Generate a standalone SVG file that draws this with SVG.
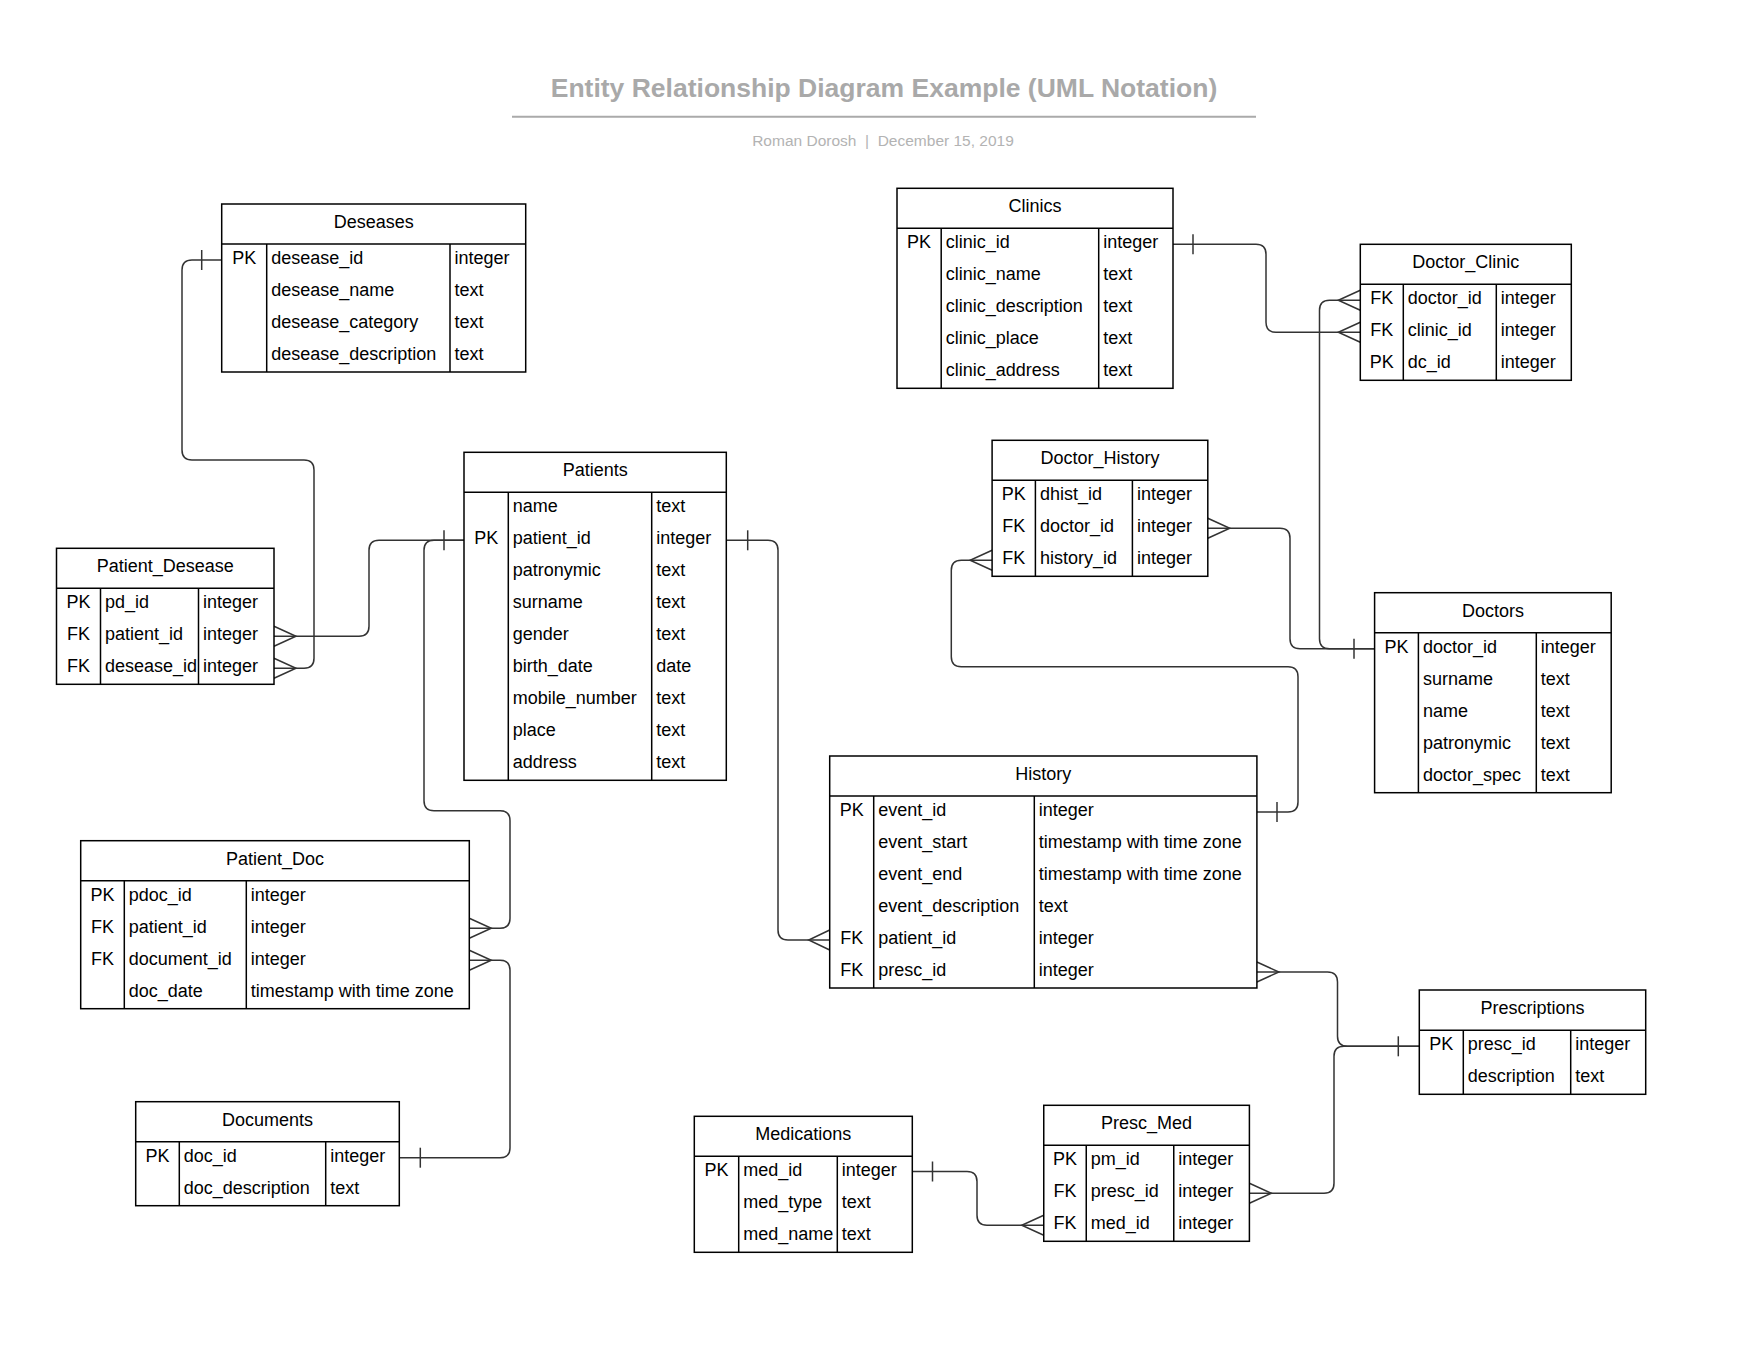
<svg xmlns="http://www.w3.org/2000/svg" width="1758" height="1358" viewBox="0 0 1758 1358">
<style>
.bg{fill:#ffffff}
.box{fill:#ffffff;stroke:#000000;stroke-width:1.5}
.ln{stroke:#000000;stroke-width:1.5}
.t{font-family:"Liberation Sans",Arial,sans-serif;font-size:18px;fill:#000000}
.c{text-anchor:middle}
.cn{fill:none;stroke:#333333;stroke-width:1.5}
.title{font-family:"Liberation Sans",Arial,sans-serif;font-size:26.5px;font-weight:bold;fill:#a9a9a9;text-anchor:middle}
.sub{font-family:"Liberation Sans",Arial,sans-serif;font-size:15.5px;fill:#b3b3b3;text-anchor:middle}
</style>
<rect class="bg" x="0" y="0" width="1758" height="1358"/>
<g id="title">
<text class="title" x="884" y="97">Entity Relationship Diagram Example (UML Notation)</text>
<line x1="512" y1="116.7" x2="1256" y2="116.7" stroke="#aaaaaa" stroke-width="2"/>
<text class="sub" x="883" y="145.5">Roman Dorosh&#160;&#160;|&#160;&#160;December 15, 2019</text>
</g>

<g id="connectors">
<!-- Deseases PK - Patient_Desease desease_id -->
<path class="cn" d="M221.7,260 H192 Q182,260 182,270 V450 Q182,460 192,460 H304 Q314,460 314,470 V658.3 Q314,668.3 304,668.3 H274"/>
<line class="cn" x1="201.7" y1="250" x2="201.7" y2="270"/>
<path class="cn" d="M274,658.3 L296,668.3 L274,678.3"/>
<!-- Patients PK - Patient_Desease patient_id -->
<path class="cn" d="M274,636.3 H359 Q369,636.3 369,626.3 V550.3 Q369,540.3 379,540.3 H464"/>
<path class="cn" d="M274,626.3 L296,636.3 L274,646.3"/>
<line class="cn" x1="444" y1="530.3" x2="444" y2="550.3"/>
<!-- Patients PK - Patient_Doc patient_id -->
<path class="cn" d="M464,540.3 H434 Q424,540.3 424,550.3 V800.7 Q424,810.7 434,810.7 H500 Q510,810.7 510,820.7 V918.3 Q510,928.3 500,928.3 H469.3"/>
<path class="cn" d="M469.3,918.3 L491.3,928.3 L469.3,938.3"/>
<!-- Documents PK - Patient_Doc document_id -->
<path class="cn" d="M469.3,960.3 H500 Q510,960.3 510,970.3 V1147.7 Q510,1157.7 500,1157.7 H399.3"/>
<path class="cn" d="M469.3,950.3 L491.3,960.3 L469.3,970.3"/>
<line class="cn" x1="420.3" y1="1147.7" x2="420.3" y2="1167.7"/>
<!-- Patients PK - History patient_id -->
<path class="cn" d="M726.3,540.3 H768 Q778,540.3 778,550.3 V930 Q778,940 788,940 H829.7"/>
<line class="cn" x1="747.7" y1="530.3" x2="747.7" y2="550.3"/>
<path class="cn" d="M829.7,930 L808.7,940 L829.7,950"/>
<!-- Clinics PK - Doctor_Clinic clinic_id -->
<path class="cn" d="M1173,244.3 H1256 Q1266,244.3 1266,254.3 V322.3 Q1266,332.3 1276,332.3 H1360.3"/>
<line class="cn" x1="1193" y1="234.3" x2="1193" y2="254.3"/>
<path class="cn" d="M1360.3,322.3 L1338.3,332.3 L1360.3,342.3"/>
<!-- Doctors PK - Doctor_Clinic doctor_id -->
<path class="cn" d="M1360.3,300.3 H1329.5 Q1319.5,300.3 1319.5,310.3 V638.7 Q1319.5,648.7 1329.5,648.7 H1374.6"/>
<path class="cn" d="M1360.3,290.3 L1338.3,300.3 L1360.3,310.3"/>
<line class="cn" x1="1354" y1="638.7" x2="1354" y2="658.7"/>
<!-- Doctors PK - Doctor_History doctor_id -->
<path class="cn" d="M1207.8,528.3 H1280 Q1290,528.3 1290,538.3 V638.7 Q1290,648.7 1300,648.7 H1374.6"/>
<path class="cn" d="M1207.8,518.3 L1229.8,528.3 L1207.8,538.3"/>
<!-- History PK - Doctor_History history_id -->
<path class="cn" d="M1256.9,812 H1288 Q1298,812 1298,802 V676.7 Q1298,666.7 1288,666.7 H961.3 Q951.3,666.7 951.3,656.7 V570.3 Q951.3,560.3 961.3,560.3 H992.1"/>
<line class="cn" x1="1277" y1="802" x2="1277" y2="822"/>
<path class="cn" d="M992.1,550.3 L970.1,560.3 L992.1,570.3"/>
<!-- Prescriptions PK - History presc_id -->
<path class="cn" d="M1256.9,972 H1327.5 Q1337.5,972 1337.5,982 V1036.3 Q1337.5,1046.3 1347.5,1046.3 H1419.3"/>
<path class="cn" d="M1256.9,962 L1278.9,972 L1256.9,982"/>
<line class="cn" x1="1398.3" y1="1036.3" x2="1398.3" y2="1056.3"/>
<!-- Prescriptions PK - Presc_Med presc_id -->
<path class="cn" d="M1249.4,1193.3 H1324 Q1334,1193.3 1334,1183.3 V1056.3 Q1334,1046.3 1344,1046.3 H1419.3"/>
<path class="cn" d="M1249.4,1183.3 L1271.4,1193.3 L1249.4,1203.3"/>
<!-- Medications PK - Presc_Med med_id -->
<path class="cn" d="M912.3,1171.5 H967 Q977,1171.5 977,1181.5 V1215.3 Q977,1225.3 987,1225.3 H1043.75"/>
<line class="cn" x1="932.5" y1="1161.5" x2="932.5" y2="1181.5"/>
<path class="cn" d="M1043.75,1215.3 L1021.75,1225.3 L1043.75,1235.3"/>
</g>

<g id="deseases">
<rect class="box" x="221.7" y="204" width="304" height="168"/>
<line class="ln" x1="221.7" y1="244" x2="525.7" y2="244"/>
<line class="ln" x1="266.7" y1="244" x2="266.7" y2="372"/>
<line class="ln" x1="450" y1="244" x2="450" y2="372"/>
<text class="t c" x="373.7" y="227.8">Deseases</text>
<text class="t c" x="244.2" y="264">PK</text>
<text class="t" x="271.2" y="264">desease_id</text><text class="t" x="454.5" y="264">integer</text>
<text class="t" x="271.2" y="296">desease_name</text><text class="t" x="454.5" y="296">text</text>
<text class="t" x="271.2" y="328">desease_category</text><text class="t" x="454.5" y="328">text</text>
<text class="t" x="271.2" y="360">desease_description</text><text class="t" x="454.5" y="360">text</text>
</g>

<g id="clinics">
<rect class="box" x="897" y="188.3" width="276" height="200"/>
<line class="ln" x1="897" y1="228.3" x2="1173" y2="228.3"/>
<line class="ln" x1="941.2" y1="228.3" x2="941.2" y2="388.3"/>
<line class="ln" x1="1098.7" y1="228.3" x2="1098.7" y2="388.3"/>
<text class="t c" x="1035" y="212.1">Clinics</text>
<text class="t c" x="919.1" y="248.3">PK</text>
<text class="t" x="945.7" y="248.3">clinic_id</text><text class="t" x="1103.2" y="248.3">integer</text>
<text class="t" x="945.7" y="280.3">clinic_name</text><text class="t" x="1103.2" y="280.3">text</text>
<text class="t" x="945.7" y="312.3">clinic_description</text><text class="t" x="1103.2" y="312.3">text</text>
<text class="t" x="945.7" y="344.3">clinic_place</text><text class="t" x="1103.2" y="344.3">text</text>
<text class="t" x="945.7" y="376.3">clinic_address</text><text class="t" x="1103.2" y="376.3">text</text>
</g>

<g id="doctor_clinic">
<rect class="box" x="1360.3" y="244.3" width="211" height="136"/>
<line class="ln" x1="1360.3" y1="284.3" x2="1571.3" y2="284.3"/>
<line class="ln" x1="1403.3" y1="284.3" x2="1403.3" y2="380.3"/>
<line class="ln" x1="1496.3" y1="284.3" x2="1496.3" y2="380.3"/>
<text class="t c" x="1465.8" y="268.1">Doctor_Clinic</text>
<text class="t c" x="1381.8" y="304.3">FK</text><text class="t" x="1407.8" y="304.3">doctor_id</text><text class="t" x="1500.8" y="304.3">integer</text>
<text class="t c" x="1381.8" y="336.3">FK</text><text class="t" x="1407.8" y="336.3">clinic_id</text><text class="t" x="1500.8" y="336.3">integer</text>
<text class="t c" x="1381.8" y="368.3">PK</text><text class="t" x="1407.8" y="368.3">dc_id</text><text class="t" x="1500.8" y="368.3">integer</text>
</g>

<g id="patients">
<rect class="box" x="464" y="452.3" width="262.3" height="328"/>
<line class="ln" x1="464" y1="492.3" x2="726.3" y2="492.3"/>
<line class="ln" x1="508.3" y1="492.3" x2="508.3" y2="780.3"/>
<line class="ln" x1="651.7" y1="492.3" x2="651.7" y2="780.3"/>
<text class="t c" x="595.2" y="476.1">Patients</text>
<text class="t" x="512.8" y="512.3">name</text><text class="t" x="656.2" y="512.3">text</text>
<text class="t c" x="486.2" y="544.3">PK</text><text class="t" x="512.8" y="544.3">patient_id</text><text class="t" x="656.2" y="544.3">integer</text>
<text class="t" x="512.8" y="576.3">patronymic</text><text class="t" x="656.2" y="576.3">text</text>
<text class="t" x="512.8" y="608.3">surname</text><text class="t" x="656.2" y="608.3">text</text>
<text class="t" x="512.8" y="640.3">gender</text><text class="t" x="656.2" y="640.3">text</text>
<text class="t" x="512.8" y="672.3">birth_date</text><text class="t" x="656.2" y="672.3">date</text>
<text class="t" x="512.8" y="704.3">mobile_number</text><text class="t" x="656.2" y="704.3">text</text>
<text class="t" x="512.8" y="736.3">place</text><text class="t" x="656.2" y="736.3">text</text>
<text class="t" x="512.8" y="768.3">address</text><text class="t" x="656.2" y="768.3">text</text>
</g>

<g id="patient_desease">
<rect class="box" x="56.5" y="548.3" width="217.5" height="136"/>
<line class="ln" x1="56.5" y1="588.3" x2="274" y2="588.3"/>
<line class="ln" x1="100.5" y1="588.3" x2="100.5" y2="684.3"/>
<line class="ln" x1="198.5" y1="588.3" x2="198.5" y2="684.3"/>
<text class="t c" x="165.3" y="572.1">Patient_Desease</text>
<text class="t c" x="78.5" y="608.3">PK</text><text class="t" x="105" y="608.3">pd_id</text><text class="t" x="203" y="608.3">integer</text>
<text class="t c" x="78.5" y="640.3">FK</text><text class="t" x="105" y="640.3">patient_id</text><text class="t" x="203" y="640.3">integer</text>
<text class="t c" x="78.5" y="672.3">FK</text><text class="t" x="105" y="672.3">desease_id</text><text class="t" x="203" y="672.3">integer</text>
</g>

<g id="doctor_history">
<rect class="box" x="992.1" y="440.3" width="215.7" height="136"/>
<line class="ln" x1="992.1" y1="480.3" x2="1207.8" y2="480.3"/>
<line class="ln" x1="1035.4" y1="480.3" x2="1035.4" y2="576.3"/>
<line class="ln" x1="1132.4" y1="480.3" x2="1132.4" y2="576.3"/>
<text class="t c" x="1100" y="464.1">Doctor_History</text>
<text class="t c" x="1013.8" y="500.3">PK</text><text class="t" x="1039.9" y="500.3">dhist_id</text><text class="t" x="1136.9" y="500.3">integer</text>
<text class="t c" x="1013.8" y="532.3">FK</text><text class="t" x="1039.9" y="532.3">doctor_id</text><text class="t" x="1136.9" y="532.3">integer</text>
<text class="t c" x="1013.8" y="564.3">FK</text><text class="t" x="1039.9" y="564.3">history_id</text><text class="t" x="1136.9" y="564.3">integer</text>
</g>

<g id="doctors">
<rect class="box" x="1374.6" y="592.7" width="236.6" height="200"/>
<line class="ln" x1="1374.6" y1="632.7" x2="1611.2" y2="632.7"/>
<line class="ln" x1="1418.4" y1="632.7" x2="1418.4" y2="792.7"/>
<line class="ln" x1="1536.3" y1="632.7" x2="1536.3" y2="792.7"/>
<text class="t c" x="1492.9" y="616.5">Doctors</text>
<text class="t c" x="1396.5" y="652.7">PK</text><text class="t" x="1422.9" y="652.7">doctor_id</text><text class="t" x="1540.8" y="652.7">integer</text>
<text class="t" x="1422.9" y="684.7">surname</text><text class="t" x="1540.8" y="684.7">text</text>
<text class="t" x="1422.9" y="716.7">name</text><text class="t" x="1540.8" y="716.7">text</text>
<text class="t" x="1422.9" y="748.7">patronymic</text><text class="t" x="1540.8" y="748.7">text</text>
<text class="t" x="1422.9" y="780.7">doctor_spec</text><text class="t" x="1540.8" y="780.7">text</text>
</g>

<g id="history">
<rect class="box" x="829.7" y="756" width="427.2" height="232"/>
<line class="ln" x1="829.7" y1="796" x2="1256.9" y2="796"/>
<line class="ln" x1="873.7" y1="796" x2="873.7" y2="988"/>
<line class="ln" x1="1034.3" y1="796" x2="1034.3" y2="988"/>
<text class="t c" x="1043.3" y="779.8">History</text>
<text class="t c" x="851.7" y="816">PK</text><text class="t" x="878.2" y="816">event_id</text><text class="t" x="1038.8" y="816">integer</text>
<text class="t" x="878.2" y="848">event_start</text><text class="t" x="1038.8" y="848">timestamp with time zone</text>
<text class="t" x="878.2" y="880">event_end</text><text class="t" x="1038.8" y="880">timestamp with time zone</text>
<text class="t" x="878.2" y="912">event_description</text><text class="t" x="1038.8" y="912">text</text>
<text class="t c" x="851.7" y="944">FK</text><text class="t" x="878.2" y="944">patient_id</text><text class="t" x="1038.8" y="944">integer</text>
<text class="t c" x="851.7" y="976">FK</text><text class="t" x="878.2" y="976">presc_id</text><text class="t" x="1038.8" y="976">integer</text>
</g>

<g id="patient_doc">
<rect class="box" x="80.7" y="840.7" width="388.6" height="168"/>
<line class="ln" x1="80.7" y1="880.7" x2="469.3" y2="880.7"/>
<line class="ln" x1="124.3" y1="880.7" x2="124.3" y2="1008.7"/>
<line class="ln" x1="246.3" y1="880.7" x2="246.3" y2="1008.7"/>
<text class="t c" x="275" y="864.5">Patient_Doc</text>
<text class="t c" x="102.5" y="900.7">PK</text><text class="t" x="128.8" y="900.7">pdoc_id</text><text class="t" x="250.8" y="900.7">integer</text>
<text class="t c" x="102.5" y="932.7">FK</text><text class="t" x="128.8" y="932.7">patient_id</text><text class="t" x="250.8" y="932.7">integer</text>
<text class="t c" x="102.5" y="964.7">FK</text><text class="t" x="128.8" y="964.7">document_id</text><text class="t" x="250.8" y="964.7">integer</text>
<text class="t" x="128.8" y="996.7">doc_date</text><text class="t" x="250.8" y="996.7">timestamp with time zone</text>
</g>

<g id="documents">
<rect class="box" x="135.7" y="1101.7" width="263.6" height="104"/>
<line class="ln" x1="135.7" y1="1141.7" x2="399.3" y2="1141.7"/>
<line class="ln" x1="179.3" y1="1141.7" x2="179.3" y2="1205.7"/>
<line class="ln" x1="325.7" y1="1141.7" x2="325.7" y2="1205.7"/>
<text class="t c" x="267.5" y="1125.5">Documents</text>
<text class="t c" x="157.5" y="1161.7">PK</text><text class="t" x="183.8" y="1161.7">doc_id</text><text class="t" x="330.2" y="1161.7">integer</text>
<text class="t" x="183.8" y="1193.7">doc_description</text><text class="t" x="330.2" y="1193.7">text</text>
</g>

<g id="medications">
<rect class="box" x="694.3" y="1116.3" width="218" height="136"/>
<line class="ln" x1="694.3" y1="1156.3" x2="912.3" y2="1156.3"/>
<line class="ln" x1="738.7" y1="1156.3" x2="738.7" y2="1252.3"/>
<line class="ln" x1="837.3" y1="1156.3" x2="837.3" y2="1252.3"/>
<text class="t c" x="803.3" y="1140.1">Medications</text>
<text class="t c" x="716.5" y="1176.3">PK</text><text class="t" x="743.2" y="1176.3">med_id</text><text class="t" x="841.8" y="1176.3">integer</text>
<text class="t" x="743.2" y="1208.3">med_type</text><text class="t" x="841.8" y="1208.3">text</text>
<text class="t" x="743.2" y="1240.3">med_name</text><text class="t" x="841.8" y="1240.3">text</text>
</g>

<g id="presc_med">
<rect class="box" x="1043.75" y="1105.3" width="205.65" height="136"/>
<line class="ln" x1="1043.75" y1="1145.3" x2="1249.4" y2="1145.3"/>
<line class="ln" x1="1086.25" y1="1145.3" x2="1086.25" y2="1241.3"/>
<line class="ln" x1="1173.75" y1="1145.3" x2="1173.75" y2="1241.3"/>
<text class="t c" x="1146.6" y="1129.1">Presc_Med</text>
<text class="t c" x="1065" y="1165.3">PK</text><text class="t" x="1090.75" y="1165.3">pm_id</text><text class="t" x="1178.25" y="1165.3">integer</text>
<text class="t c" x="1065" y="1197.3">FK</text><text class="t" x="1090.75" y="1197.3">presc_id</text><text class="t" x="1178.25" y="1197.3">integer</text>
<text class="t c" x="1065" y="1229.3">FK</text><text class="t" x="1090.75" y="1229.3">med_id</text><text class="t" x="1178.25" y="1229.3">integer</text>
</g>

<g id="prescriptions">
<rect class="box" x="1419.3" y="990" width="226.4" height="104.3"/>
<line class="ln" x1="1419.3" y1="1030.3" x2="1645.7" y2="1030.3"/>
<line class="ln" x1="1463.3" y1="1030.3" x2="1463.3" y2="1094.3"/>
<line class="ln" x1="1570.7" y1="1030.3" x2="1570.7" y2="1094.3"/>
<text class="t c" x="1532.5" y="1014">Prescriptions</text>
<text class="t c" x="1441.3" y="1050.3">PK</text><text class="t" x="1467.8" y="1050.3">presc_id</text><text class="t" x="1575.2" y="1050.3">integer</text>
<text class="t" x="1467.8" y="1082.3">description</text><text class="t" x="1575.2" y="1082.3">text</text>
</g>
</svg>
